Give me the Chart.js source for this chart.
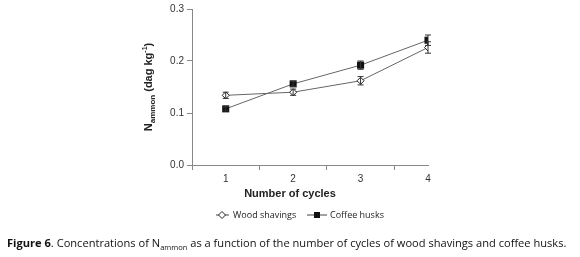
<!DOCTYPE html>
<html>
<head>
<meta charset="utf-8">
<script src="https://cdn.jsdelivr.net/npm/chart.js@4.4.0/dist/chart.umd.min.js"></script>
<style>
  body { margin: 0; background: #fff; }
  #wrap { position: relative; width: 580px; height: 257px; }
  #caption {
    position: absolute; left: 7px; top: 235px; width: 575px;
    font-family: "Open Sans", sans-serif; font-size: 11.1px; color: #111; white-space: nowrap;
  }
  #caption sub { font-size: 7.5px; }
</style>
</head>
<body>
<div id="wrap">
  <canvas id="grafico" width="580" height="257"></canvas>
  <div id="caption"><b>Figure 6</b>. Concentrations of N<sub>ammon</sub> as a function of the number of cycles of wood shavings and coffee husks.</div>
</div>
<script>
// datos
const ciclos = [1, 2, 3, 4];
const virutas = [0.134, 0.140, 0.162, 0.226];
const virutasErr = [0.006, 0.006, 0.008, 0.011];
const cascarilla = [0.108, 0.156, 0.192, 0.240];
const cascarillaErr = [0.004, 0.005, 0.008, 0.010];
const ticksY = [0.0, 0.1, 0.2, 0.3];

const fuente = '"Liberation Sans", Arial, sans-serif';

// barras de error
const pluginErrores = {
    id: 'errores',
    afterDatasetsDraw(chart) {
        const ctx = chart.ctx;
        const x = chart.scales.x, y = chart.scales.y;
        const series = [[virutas, virutasErr], [cascarilla, cascarillaErr]];
        ctx.save();
        ctx.strokeStyle = '#333';
        ctx.lineWidth = 1;
        series.forEach(([vals, errs]) => {
            vals.forEach((v, i) => {
                const px = x.getPixelForValue(ciclos[i]);
                const y1 = y.getPixelForValue(v - errs[i]);
                const y2 = y.getPixelForValue(v + errs[i]);
                ctx.beginPath();
                ctx.moveTo(px, y1); ctx.lineTo(px, y2);
                ctx.moveTo(px - 3, y1); ctx.lineTo(px + 3, y1);
                ctx.moveTo(px - 3, y2); ctx.lineTo(px + 3, y2);
                ctx.stroke();
            });
        });
        ctx.restore();
    }
};

// titulos y leyenda
const pluginTextos = {
    id: 'textos',
    afterDraw(chart) {
        const ctx = chart.ctx;
        const area = chart.chartArea;
        ctx.save();
        ctx.fillStyle = '#222';

        // titulo eje x
        ctx.font = 'bold 11px ' + fuente;
        ctx.textAlign = 'center';
        ctx.textBaseline = 'middle';
        ctx.fillText('Number of cycles', 290, 194);

        // titulo eje y con subindice y superindice
        ctx.translate(148, (area.top + area.bottom) / 2);
        ctx.rotate(-Math.PI / 2);
        ctx.textAlign = 'left';
        ctx.textBaseline = 'alphabetic';
        const partes = [
            ['N', 'bold 11px ', 0],
            ['ammon', 'bold 8px ', 3],
            [' (dag kg', 'bold 11px ', 0],
            ['-1', 'bold 7px ', -5],
            [')', 'bold 11px ', 0]
        ];
        let total = 0;
        partes.forEach(p => { ctx.font = p[1] + fuente; total += ctx.measureText(p[0]).width; });
        let cx = -total / 2;
        partes.forEach(p => {
            ctx.font = p[1] + fuente;
            ctx.fillText(p[0], cx, 4 + p[2]);
            cx += ctx.measureText(p[0]).width;
        });
        ctx.setTransform(1, 0, 0, 1, 0, 0);

        // leyenda
        const ly = 215;
        ctx.strokeStyle = '#444';
        ctx.lineWidth = 1;
        ctx.beginPath();
        ctx.moveTo(216, ly); ctx.lineTo(229, ly);
        ctx.moveTo(307, ly); ctx.lineTo(327, ly);
        ctx.stroke();
        ctx.beginPath();
        ctx.moveTo(222, ly - 3.5); ctx.lineTo(225.5, ly); ctx.lineTo(222, ly + 3.5); ctx.lineTo(218.5, ly); ctx.closePath();
        ctx.fillStyle = '#fff'; ctx.fill(); ctx.strokeStyle = '#222'; ctx.stroke();
        ctx.fillStyle = '#111';
        ctx.fillRect(314, ly - 3, 6, 6);
        ctx.fillStyle = '#222';
        ctx.font = '9px "Open Sans", sans-serif';
        ctx.textBaseline = 'middle';
        ctx.fillText('Wood shavings', 233, ly);
        ctx.fillText('Coffee husks', 330, ly);
        ctx.restore();
    }
};

const data = {
    datasets: [{
        label: 'Wood shavings',
        data: ciclos.map((c, i) => ({ x: c, y: virutas[i] })),
        borderColor: '#666',
        borderWidth: 1,
        pointStyle: 'rectRot',
        pointRadius: 3.5,
        pointBackgroundColor: '#fff',
        pointBorderColor: '#222',
        pointBorderWidth: 1
    }, {
        label: 'Coffee husks',
        data: ciclos.map((c, i) => ({ x: c, y: cascarilla[i] })),
        borderColor: '#666',
        borderWidth: 1,
        pointStyle: 'rect',
        pointRadius: 5,
        pointBackgroundColor: '#111',
        pointBorderColor: '#111',
        pointBorderWidth: 0
    }]
};

const config = {
    type: 'line',
    data: data,
    options: {
        responsive: false,
        animation: false,
        layout: { padding: { left: 140, right: 152, top: 0, bottom: 62 } },
        plugins: { legend: { display: false }, tooltip: { enabled: false } },
        scales: {
            x: {
                type: 'linear',
                min: 0.5,
                max: 4,
                afterFit(scale) { scale.height = 30; },
                afterBuildTicks(scale) {
                    scale.ticks = [0.5, 1, 1.5, 2, 2.5, 3, 3.5, 4].map(v => ({ value: v }));
                },
                border: { color: '#888', width: 1 },
                grid: {
                    drawOnChartArea: false,
                    tickLength: 5,
                    color: ctx => (ctx.tick && Number.isInteger(ctx.tick.value)) ? 'rgba(0,0,0,0)' : '#888'
                },
                ticks: {
                    autoSkip: false,
                    maxRotation: 0,
                    padding: 3,
                    color: '#333',
                    font: { family: fuente, size: 10 },
                    callback: v => Number.isInteger(v) ? String(v) : ''
                }
            },
            y: {
                min: 0,
                max: 0.3,
                afterFit(scale) { scale.width = 52; },
                afterBuildTicks(scale) {
                    scale.ticks = ticksY.map(v => ({ value: v }));
                },
                border: { color: '#888', width: 1 },
                grid: { drawOnChartArea: false, tickLength: 5, color: '#888' },
                ticks: {
                    padding: 3,
                    color: '#333',
                    font: { family: fuente, size: 10 },
                    callback: v => v.toFixed(1)
                }
            }
        }
    },
    plugins: [pluginErrores, pluginTextos]
};

document.addEventListener('DOMContentLoaded', () => {
    const canvas = document.getElementById('grafico');
    if (canvas) {
        new Chart(canvas, config);
    } else {
        console.error('No se encontró el canvas');
    }
});
</script>
</body>
</html>
